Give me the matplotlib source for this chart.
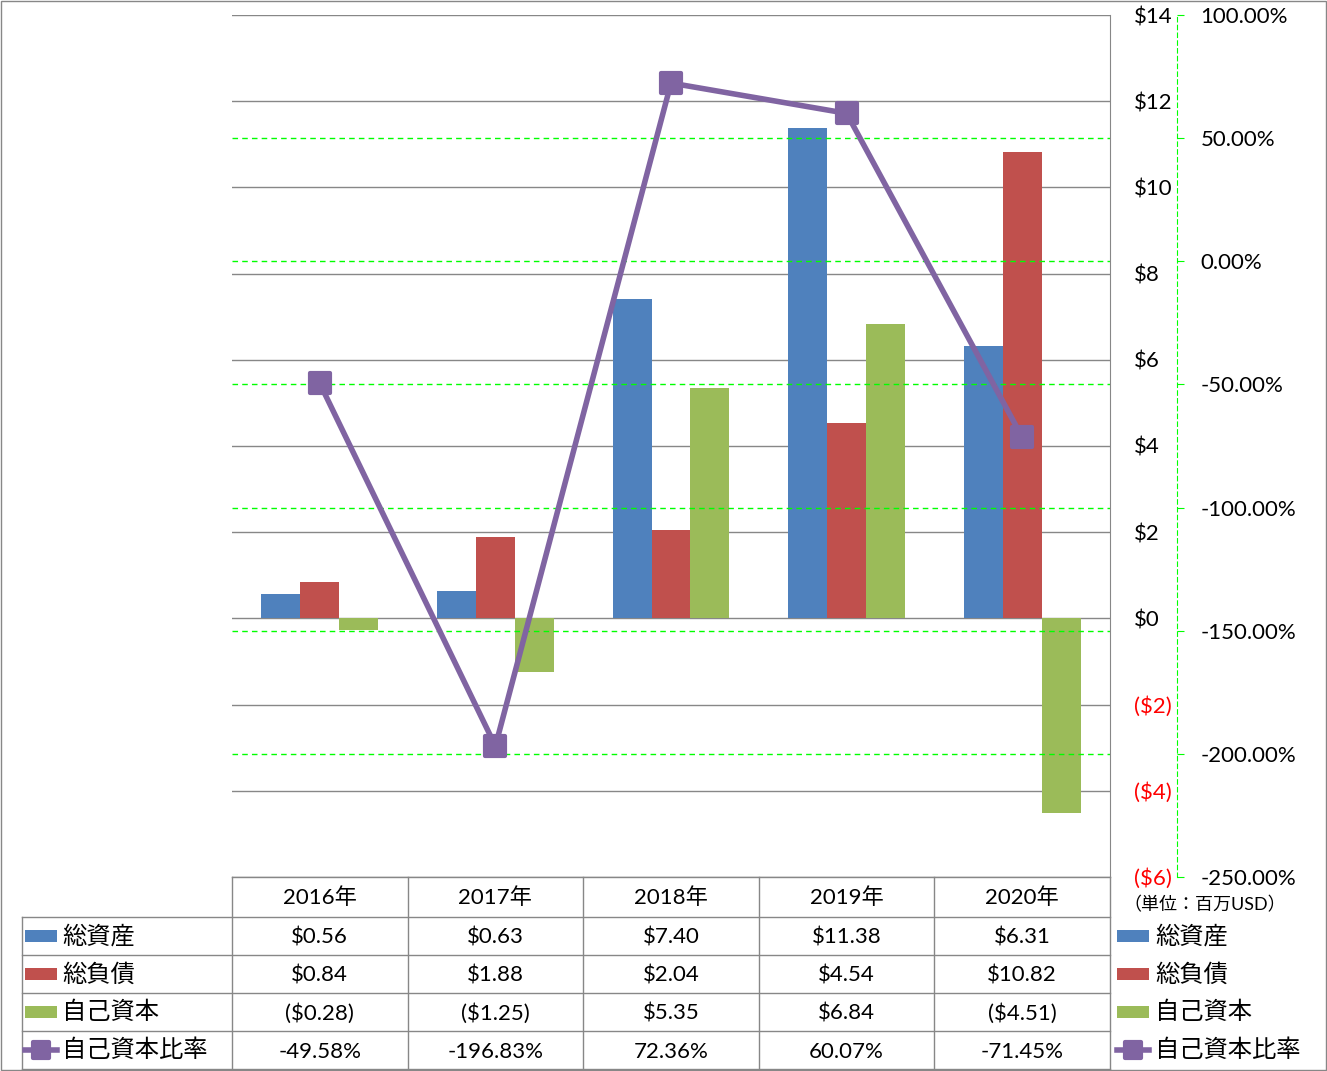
import matplotlib
matplotlib.use("Agg")
import matplotlib.pyplot as plt
import numpy as np
from matplotlib.markers import MarkerStyle
from matplotlib.patches import Rectangle

plt.rcParams['font.family'] = ['Lato', 'Noto Sans CJK JP', 'DejaVu Sans']

# データ（単位：百万USD）
years = ['2016年', '2017年', '2018年', '2019年', '2020年']
total_assets = [0.56, 0.63, 7.40, 11.38, 6.31]
total_liab = [0.84, 1.88, 2.04, 4.54, 10.82]
equity = [-0.28, -1.25, 5.35, 6.84, -4.51]
equity_ratio = [-49.58, -196.83, 72.36, 60.07, -71.45]

series_names = ['総資産', '総負債', '自己資本', '自己資本比率']
c_blue, c_red, c_green, c_purple = '#4F81BD', '#C0504D', '#9BBB59', '#8064A2'

W, H = 1327, 1071
L, R, TOP, BOT = 232, 1110, 15, 877
rows = [877, 917, 955, 993, 1031, 1069]
grid_gray = '#878787'
fs_num = 16


def money(v):
    return '($%.2f)' % abs(v) if v < 0 else '$%.2f' % v


def money_tick(v):
    return '($%d)' % abs(v) if v < 0 else '$%d' % v


fig = plt.figure(figsize=(W / 100, H / 100), dpi=100)
ax = fig.add_axes([L / W, 1 - BOT / H, (R - L) / W, (BOT - TOP) / H])

x = np.arange(len(years))
bw = 0.222
ax.bar(x - bw, total_assets, bw, color=c_blue, zorder=2)
ax.bar(x, total_liab, bw, color=c_red, zorder=2)
ax.bar(x + bw, equity, bw, color=c_green, zorder=2)
ax.set_xlim(-0.5, len(years) - 0.5)
ax.set_ylim(-6, 14)
ax.set_axisbelow(True)
ax.set_xticks([])
ax.grid(axis='y', color=grid_gray, lw=1)

ax2 = ax.twinx()
mk = MarkerStyle('s', joinstyle='round')
ax2.set_ylim(-250, 100)
pt = np.arange(-250, 101, 50)
for v in pt[1:-1]:
    ax2.axhline(v, color='#00FF00', lw=1, ls=(0, (4, 3)), zorder=2.5)
ax2.plot(x, equity_ratio, color=c_purple, lw=4, marker=mk, markersize=15,
         markeredgewidth=3, markeredgecolor=c_purple, markerfacecolor=c_purple,
         zorder=3)
ax2.set_yticks(pt)
ax2.set_yticklabels(['%.2f%%' % v for v in pt])
ax2.tick_params(axis='y', length=5, color='#00FF00', pad=12, labelsize=fs_num)
for t, v in zip(ax2.yaxis.get_major_ticks(), pt):
    t.label2.set_color('red' if v < 0 else 'black')
for s in ['top', 'left', 'bottom']:
    ax2.spines[s].set_visible(False)
ax2.spines['right'].set_position(('axes', (1177 - L) / (R - L)))
ax2.spines['right'].set_color('#00FF00')
ax2.spines['right'].set_linestyle((0, (4, 3)))

# ドル軸は右側に表示
yt = np.arange(-6, 15, 2)
ax.set_yticks(yt)
ax.set_yticklabels([money_tick(v) for v in yt])
ax.yaxis.tick_right()
ax.tick_params(axis='y', length=0, pad=17, labelsize=fs_num)
for t, v in zip(ax.yaxis.get_major_ticks(), yt):
    t.label2.set_color('red' if v < 0 else 'black')
for s in ['top', 'left', 'bottom']:
    ax.spines[s].set_visible(False)
ax.spines['right'].set_color(grid_gray)

# データテーブルと凡例
ov = fig.add_axes([0, 0, 1, 1])
ov.set_xlim(0, W)
ov.set_ylim(H, 0)
ov.axis('off')
ov.patch.set_alpha(0)

cols = np.linspace(L, R, len(years) + 1)
tc = grid_gray
ov.plot([L, R], [rows[0], rows[0]], color=tc, lw=1)
for yy in rows[1:]:
    ov.plot([22, R], [yy, yy], color=tc, lw=1)
for xx in cols:
    ov.plot([xx, xx], [rows[0], rows[-1]], color=tc, lw=1)
ov.plot([22, 22], [rows[1], rows[-1]], color=tc, lw=1)
ov.add_patch(Rectangle((0.5, 0.5), W - 1.5, H - 1.5, fill=False, ec=tc, lw=1))

cx = (cols[:-1] + cols[1:]) / 2
for i, yl in enumerate(years):
    ov.text(cx[i], (rows[0] + rows[1]) / 2 + 1, yl, ha='center', va='center', fontsize=fs_num)

table_rows = [
    [money(v) for v in total_assets],
    [money(v) for v in total_liab],
    [money(v) for v in equity],
    ['%.2f%%' % v for v in equity_ratio],
]
colors = [c_blue, c_red, c_green, c_purple]
for r, vals in enumerate(table_rows):
    yc = (rows[r + 1] + rows[r + 2]) / 2
    for i, t in enumerate(vals):
        ov.text(cx[i], yc + 2, t, ha='center', va='center', fontsize=fs_num)
    for x0, tx in [(25, 62), (1117, 1155)]:
        if r < 3:
            ov.add_patch(Rectangle((x0, yc - 6), 32, 12, color=colors[r], lw=0))
        else:
            ov.plot([x0, x0 + 32], [yc, yc], color=c_purple, lw=4)
            ov.plot([x0 + 16], [yc], marker=mk, markersize=12, color=c_purple,
                    markeredgewidth=3)
        ov.text(tx, yc, series_names[r], ha='left', va='center', fontsize=17.5)

ov.text(1205, 905, '（単位：百万USD）', ha='center', va='center', fontsize=13)

fig.savefig('out.png', dpi=100)
